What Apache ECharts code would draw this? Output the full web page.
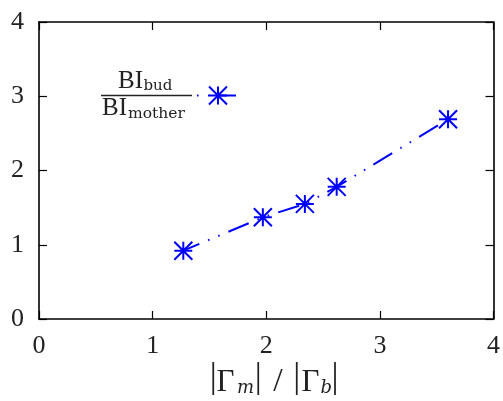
<!DOCTYPE html>
<html>
<head>
<meta charset="utf-8">
<script src="https://cdn.jsdelivr.net/npm/echarts@6/dist/echarts.min.js"></script>
<style>
  html, body { margin: 0; padding: 0; background: #fff; }
  #chart { width: 503px; height: 401px; }
</style>
</head>
<body>
<div id="chart"></div>
<script>
// |Gamma_m| / |Gamma_b| on x, BI_bud / BI_mother on y
const gammaRatio = [1.27, 1.97, 2.34, 2.62, 3.60];
const biRatio = [0.92, 1.37, 1.55, 1.78, 2.69];
const xTicks = [0, 1, 2, 3, 4];
const yTicks = [0, 1, 2, 3, 4];

const BLUE = '#0000ff';
const INK = '#222222';
const SERIF = '"Liberation Serif", "DejaVu Serif", serif';
const SUBSERIF = '"DejaVu Serif", "Liberation Serif", serif';
const DASH = [22, 9.5, 1.5, 9.5, 1.5, 9.5];
// asterisk: plus overlaid with a cross
const STAR = 'path://M0,-1L0,1M-1,0L1,0M-1,-1L1,1M-1,1L1,-1';

// key asterisk built from four strokes
function starGroup(cx, cy, r) {
  const arms = [[0, -r, 0, r], [-r, 0, r, 0], [-r, -r, r, r], [-r, r, r, -r]];
  return {
    type: 'group',
    x: cx,
    y: cy,
    children: arms.map(a => ({
      type: 'line',
      shape: { x1: a[0], y1: a[1], x2: a[2], y2: a[3] },
      style: { stroke: BLUE, lineWidth: 2 }
    }))
  };
}

function frameAxis(pos, showLabels, ticks) {
  return {
    type: 'value',
    position: pos,
    min: ticks[0],
    max: ticks[ticks.length - 1],
    interval: 1,
    axisLine: { show: true, onZero: false, lineStyle: { color: '#000', width: 1.6 } },
    axisTick: { show: true, inside: true, length: 8, lineStyle: { color: '#000', width: 1.2 } },
    axisLabel: {
      show: showLabels,
      fontFamily: SERIF,
      fontSize: 26,
      color: INK,
      margin: (pos === 'left' || pos === 'right') ? 15 : 14
    },
    splitLine: { show: false }
  };
}

function txt(x, y, text, font, align) {
  return {
    type: 'text', x: x, y: y,
    style: { text: text, font: font, fill: INK, align: align || 'left', verticalAlign: 'middle' }
  };
}

const chart = echarts.init(document.getElementById('chart'), null, { renderer: 'canvas' });

chart.setOption({
  animation: false,
  backgroundColor: '#fff',
  grid: { left: 39, right: 9, top: 22, bottom: 82, containLabel: false },
  xAxis: [frameAxis('bottom', true, xTicks), frameAxis('top', false, xTicks)],
  yAxis: [frameAxis('left', true, yTicks), frameAxis('right', false, yTicks)],
  series: [{
    type: 'line',
    xAxisIndex: 0,
    yAxisIndex: 0,
    data: gammaRatio.map((g, i) => [g, biRatio[i]]),
    symbol: STAR,
    symbolSize: 18,
    symbolKeepAspect: true,
    itemStyle: { color: BLUE, borderColor: BLUE, borderWidth: 2 },
    lineStyle: { color: BLUE, width: 2, type: DASH, dashOffset: 4.6, cap: 'butt' },
    emphasis: { disabled: true }
  }],
  graphic: [
    // key: BI_bud / BI_mother
    txt(118, 81, 'BI', '25px ' + SERIF),
    txt(143.5, 86.5, 'bud', '15px ' + SUBSERIF),
    { type: 'line', shape: { x1: 101, y1: 95.5, x2: 192, y2: 95.5 }, style: { stroke: INK, lineWidth: 1.5 } },
    txt(102, 108, 'BI', '25px ' + SERIF),
    txt(128, 113.5, 'mother', '15.5px ' + SUBSERIF),
    { type: 'line', shape: { x1: 197, y1: 95.5, x2: 236, y2: 95.5 }, style: { stroke: BLUE, lineWidth: 2, lineDash: DASH, lineDashOffset: 31.5 } },
    starGroup(218, 95.5, 9),

    // axis title: |Γm| / |Γb|
    txt(213.3, 378, '|', '35px ' + SERIF, 'center'),
    txt(216.5, 383, 'Γ', '31px ' + SERIF),
    txt(237, 388, 'm', 'italic 18px ' + SUBSERIF),
    txt(258.3, 378, '|', '35px ' + SERIF, 'center'),
    txt(278, 382.5, '/', '34px ' + SERIF, 'center'),
    txt(296.7, 378, '|', '35px ' + SERIF, 'center'),
    txt(301.5, 383, 'Γ', '31px ' + SERIF),
    txt(320.5, 388, 'b', 'italic 18px ' + SUBSERIF),
    txt(335, 378, '|', '35px ' + SERIF, 'center')
  ]
});
</script>
</body>
</html>
